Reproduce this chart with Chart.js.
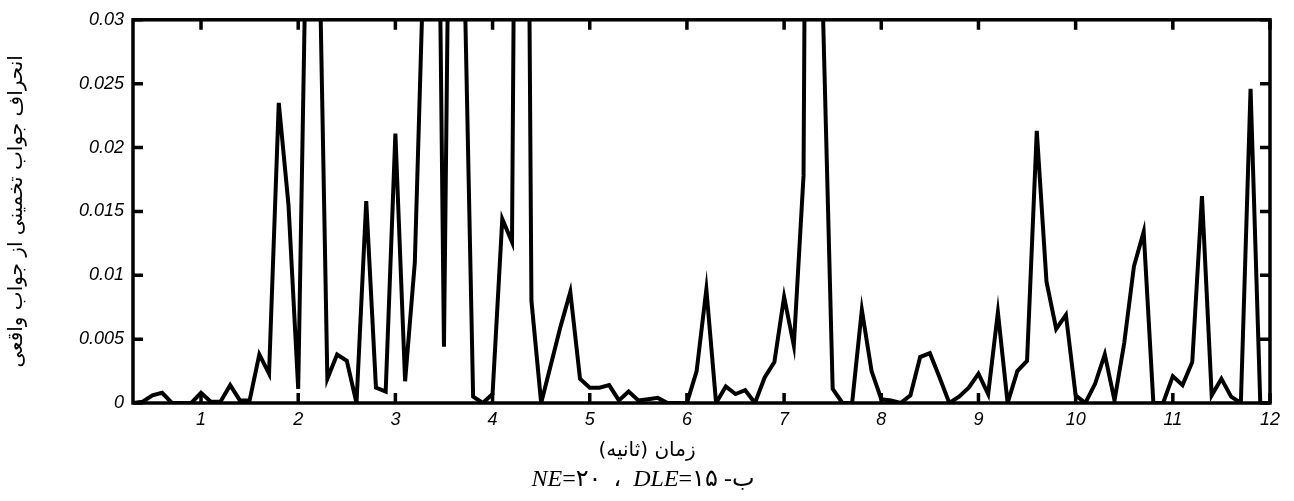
<!DOCTYPE html>
<html>
<head>
<meta charset="utf-8">
<script src="https://cdn.jsdelivr.net/npm/chart.js@4.4.1/dist/chart.umd.min.js"></script>
<style>
	body { margin: 0; background: #fff; }
	#wrap { position: relative; width: 1294px; height: 501px; }
	.fa { position: absolute; text-align: center; color: #000; white-space: nowrap; }
	#xTitle { left: 447px; width: 400px; top: 437px; font: 20px "DejaVu Sans"; }
	#caption { left: 443px; width: 400px; top: 464px; font: 24px "Liberation Serif", "DejaVu Sans"; }
	#caption i { font-family: "Liberation Serif"; }
</style>
</head>
<body>
<div id="wrap">
	<canvas id="myChart"></canvas>
	<div id="xTitle" class="fa" dir="rtl">زمان (ثانیه)</div>
	<div id="caption" class="fa" dir="rtl">ب- <bdi><i>DLE</i>=۱۵</bdi> &nbsp;، &nbsp;<bdi><i>NE</i>=۲۰</bdi></div>
</div>
<script>
// time (s), one sample every 0.1 s
let times = [
	0.3, 0.4, 0.5, 0.6, 0.7, 0.8, 0.9, 1.0, 1.1, 1.2, 1.3, 1.4, 1.5, 1.6, 1.7, 1.8, 1.9,
	2.0, 2.1, 2.2, 2.3, 2.4, 2.5, 2.6, 2.7, 2.8, 2.9, 3.0, 3.1, 3.2, 3.3, 3.4, 3.5, 3.6, 3.7, 3.8, 3.9,
	4.0, 4.1, 4.2, 4.3, 4.4, 4.5, 4.6, 4.7, 4.8, 4.9, 5.0, 5.1, 5.2, 5.3, 5.4, 5.5, 5.6, 5.7, 5.8, 5.9,
	6.0, 6.1, 6.2, 6.3, 6.4, 6.5, 6.6, 6.7, 6.8, 6.9, 7.0, 7.1, 7.2, 7.3, 7.4, 7.5, 7.6, 7.7, 7.8, 7.9,
	8.0, 8.1, 8.2, 8.3, 8.4, 8.5, 8.6, 8.7, 8.8, 8.9, 9.0, 9.1, 9.2, 9.3, 9.4, 9.5, 9.6, 9.7, 9.8, 9.9,
	10.0, 10.1, 10.2, 10.3, 10.4, 10.5, 10.6, 10.7, 10.8, 10.9, 11.0, 11.1, 11.2, 11.3, 11.4, 11.5, 11.6, 11.7, 11.8, 11.9,
	12.0
]
// deviation of estimated response from the true one
let deviation = [
	0, 0.0001, 0.0006, 0.0008, 0, 0, 0, 0.0008, 0.0001, 0.0001, 0.0014, 0.0002, 0.0002, 0.0038, 0.0023, 0.0235, 0.0155,
	0.0011, 0.045, 0.043, 0.0019, 0.0038, 0.0033, 0, 0.0158, 0.0012, 0.0009, 0.0211, 0.0017, 0.011, 0.037, 0.074, 0.0044, 0.074, 0.0375, 0.0005, 0,
	0.0007, 0.0144, 0.0126, 0.12, 0.008, 0, 0.003, 0.006, 0.0087, 0.0019, 0.0012, 0.0012, 0.0014, 0.0002, 0.0009, 0.0002, 0.0003, 0.0004, 0, 0,
	0, 0.0025, 0.0089, 0, 0.0013, 0.0007, 0.001, 0, 0.002, 0.0032, 0.0083, 0.0045, 0.0178, 0.15, 0.0305, 0.0011, 0, 0, 0.0073, 0.0025,
	0.0003, 0.0002, 0, 0.0006, 0.0036, 0.0039, 0.002, 0, 0.0005, 0.0012, 0.0023, 0.0007, 0.0071, 0, 0.0025, 0.0033, 0.0213, 0.0095, 0.0058, 0.0069,
	0.0006, 0, 0.0015, 0.0038, 0.0002, 0.0047, 0.0107, 0.0134, 0, 0, 0.0021, 0.0014, 0.0032, 0.0162, 0.0006, 0.0019, 0.0005, 0, 0.0246, 0,
	0
]
let xTicks = [1, 2, 3, 4, 5, 6, 7, 8, 9, 10, 11, 12]
let yTicks = [0, 0.005, 0.01, 0.015, 0.02, 0.025, 0.03]
let yTickLabels = ['0', '0.005', '0.01', '0.015', '0.02', '0.025', '0.03']
let yTitle = 'انحراف جواب تخمینی از جواب واقعی'

const tickFont = { family: 'Liberation Sans', size: 18, style: 'italic' }

// matlab style box with inward ticks on all four sides
const boxPlugin = {
	id: 'boxPlugin',
	afterDatasetsDraw(chart) {
		const { ctx, chartArea: a, scales } = chart;
		const len = 10;
		ctx.save();
		ctx.strokeStyle = '#000';
		ctx.lineWidth = 3.5;
		ctx.strokeRect(a.left, a.top, a.right - a.left, a.bottom - a.top);
		ctx.beginPath();
		scales.x.ticks.forEach(t => {
			const px = scales.x.getPixelForValue(t.value);
			ctx.moveTo(px, a.bottom); ctx.lineTo(px, a.bottom - len);
			ctx.moveTo(px, a.top); ctx.lineTo(px, a.top + len);
		});
		scales.y.ticks.forEach(t => {
			const py = scales.y.getPixelForValue(t.value);
			ctx.moveTo(a.left, py); ctx.lineTo(a.left + len, py);
			ctx.moveTo(a.right, py); ctx.lineTo(a.right - len, py);
		});
		ctx.stroke();
		ctx.restore();
	}
}

const ctx = document.getElementById('myChart').getContext('2d');
const myChart = new Chart(ctx, {
	type: 'line',
	data: {
		datasets: [{
			data: times.map((t, i) => ({ x: t, y: deviation[i] })),
			borderColor: '#000',
			borderWidth: 4,
			pointRadius: 0,
			tension: 0,
			clip: 0,
			fill: false
		}]
	},
	options: {
		responsive: true,
		maintainAspectRatio: false,
		animation: false,
		layout: { padding: { left: 0, right: 24, top: 16, bottom: 58 } },
		plugins: { legend: { display: false }, tooltip: { enabled: false } },
		scales: {
			x: {
				type: 'linear',
				min: 0.3,
				max: 12,
				grid: { display: false, drawTicks: false },
				border: { display: false },
				afterBuildTicks: (s) => { s.ticks = xTicks.map(v => ({ value: v })) },
				afterFit: (s) => { s.height = 40 },
				ticks: {
					color: '#000',
					font: tickFont,
					padding: 6,
					maxRotation: 0,
					autoSkip: false,
					callback: (v) => String(v)
				}
			},
			y: {
				min: 0,
				max: 0.03,
				grid: { display: false, drawTicks: false },
				border: { display: false },
				afterBuildTicks: (s) => { s.ticks = yTicks.map(v => ({ value: v })) },
				afterFit: (s) => { s.width = 133 },
				ticks: {
					color: '#000',
					font: tickFont,
					padding: 9,
					autoSkip: false,
					callback: (v, i) => yTickLabels[i]
				},
				title: {
					display: true,
					text: yTitle,
					color: '#000',
					font: { family: 'DejaVu Sans', size: 20 },
					padding: { top: 5, bottom: 0 }
				}
			}
		}
	},
	plugins: [boxPlugin]
});
</script>
</body>
</html>
